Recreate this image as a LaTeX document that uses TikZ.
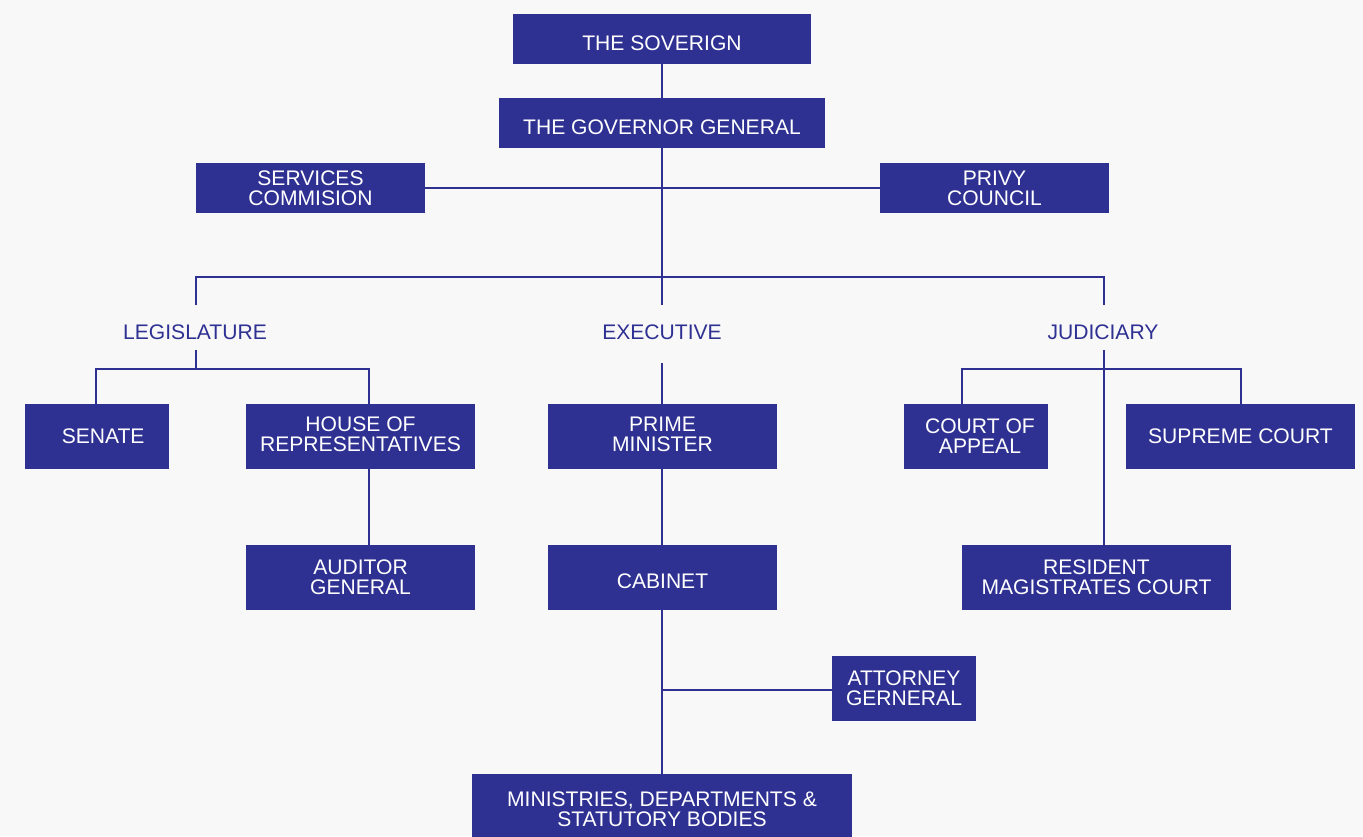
\documentclass[tikz,border=0pt]{standalone}
\usepackage{fontspec}
\setmainfont{Liberation Sans}
\definecolor{navy}{HTML}{2E3192}
\definecolor{bg}{HTML}{F8F8F8}
\tikzset{
  box/.style={fill=navy, text=white, inner sep=0pt, align=center,
    font=\fontsize{12}{11.3}\selectfont},
  low/.style={text height=13pt, text depth=0pt},
  lbl/.style={text=navy, inner sep=1pt, font=\fontsize{12}{11.3}\selectfont},
  conn/.style={draw=navy, line width=1.6pt}
}
\begin{document}
\begin{tikzpicture}[x=0.02cm, y=-0.02cm]
\fill[bg] (0,0) rectangle (1363,836);
\useasboundingbox (0,0) rectangle (1363,836);
% boxes
\node[box, low, minimum width=5.96cm, minimum height=1cm] (sov) at (662,39) {THE SOVERIGN};
\node[box, low, minimum width=6.54cm, minimum height=1cm] (gg) at (662,123) {THE GOVERNOR GENERAL};
\node[box, minimum width=4.58cm, minimum height=1cm] (sc) at (310.5,188) {SERVICES\\COMMISION};
\node[box, minimum width=4.58cm, minimum height=1cm] (pc) at (994.5,188) {PRIVY\\COUNCIL};
\node[lbl] (leg) at (195,332) {LEGISLATURE};
\node[lbl] (exe) at (662,332) {EXECUTIVE};
\node[lbl] (jud) at (1103,332) {JUDICIARY};
\node[box, minimum width=2.88cm, minimum height=1.3cm] (sen) at (97,436.5) {\hspace{7pt}SENATE};
\node[box, text depth=3pt, minimum width=4.58cm, minimum height=1.3cm] (hor) at (360.5,436.5) {HOUSE OF\\REPRESENTATIVES};
\node[box, minimum width=4.58cm, minimum height=1.3cm] (aud) at (360.5,577.5) {AUDITOR\\GENERAL};
\node[box, text depth=3pt, minimum width=4.58cm, minimum height=1.3cm] (pm) at (662.5,436.5) {PRIME\\MINISTER};
\node[box, low, minimum width=4.58cm, minimum height=1.3cm] (cab) at (662.5,577.5) {CABINET};
\node[box, minimum width=2.88cm, minimum height=1.3cm] (ag) at (904,688.5) {ATTORNEY\\GERNERAL};
\node[box, minimum width=7.6cm, minimum height=1.4cm] (min) at (662,809) {MINISTRIES, DEPARTMENTS \&\\STATUTORY BODIES};
\node[box, minimum width=2.88cm, minimum height=1.3cm] (coa) at (976,436.5) {\hspace{4.5pt}COURT OF\\\hspace{4.5pt}APPEAL};
\node[box, minimum width=4.58cm, minimum height=1.3cm] (sup) at (1240.5,436.5) {SUPREME COURT};
\node[box, minimum width=5.38cm, minimum height=1.3cm] (rmc) at (1096.5,577.5) {RESIDENT\\MAGISTRATES COURT};
% helper coordinates
\coordinate (bar) at (662,277);
\coordinate (barL) at (196,277);
\coordinate (barR) at (1104,277);
\coordinate (legTop) at (196,305);
\coordinate (exeTop) at (662,305);
\coordinate (judTop) at (1104,305);
\coordinate (legBot) at (196,350);
\coordinate (legBar) at (196,369);
\coordinate (exeBot) at (662,363);
\coordinate (judBot) at (1104,350);
\coordinate (judBar) at (1104,369);
\coordinate (agJoin) at (662,690);
% connectors
\draw[conn] (sov.south) -- (gg.north);
\draw[conn] (gg.south) -- (bar);
\draw[conn] (sc.east) -- (pc.west);
\draw[conn] (legTop) -- (barL) -- (barR) -- (judTop);
\draw[conn] (bar) -- (exeTop);
\draw[conn] (legBot) -- (legBar);
\draw[conn] (sen.north -| 96,0) |- (legBar) -| (hor.north -| 369,0);
\draw[conn] (hor.south -| 369,0) -- (aud.north -| 369,0);
\draw[conn] (exeBot) -- (pm.north -| exeBot);
\draw[conn] (pm.south -| exeBot) -- (cab.north -| exeBot);
\draw[conn] (cab.south -| exeBot) -- (min.north -| exeBot);
\draw[conn] (agJoin) -- (ag.west |- agJoin);
\draw[conn] (judBot) -- (rmc.north -| judBot);
\draw[conn] (coa.north -| 962,0) |- (judBar) -| (sup.north -| 1241,0);
\end{tikzpicture}
\end{document}
